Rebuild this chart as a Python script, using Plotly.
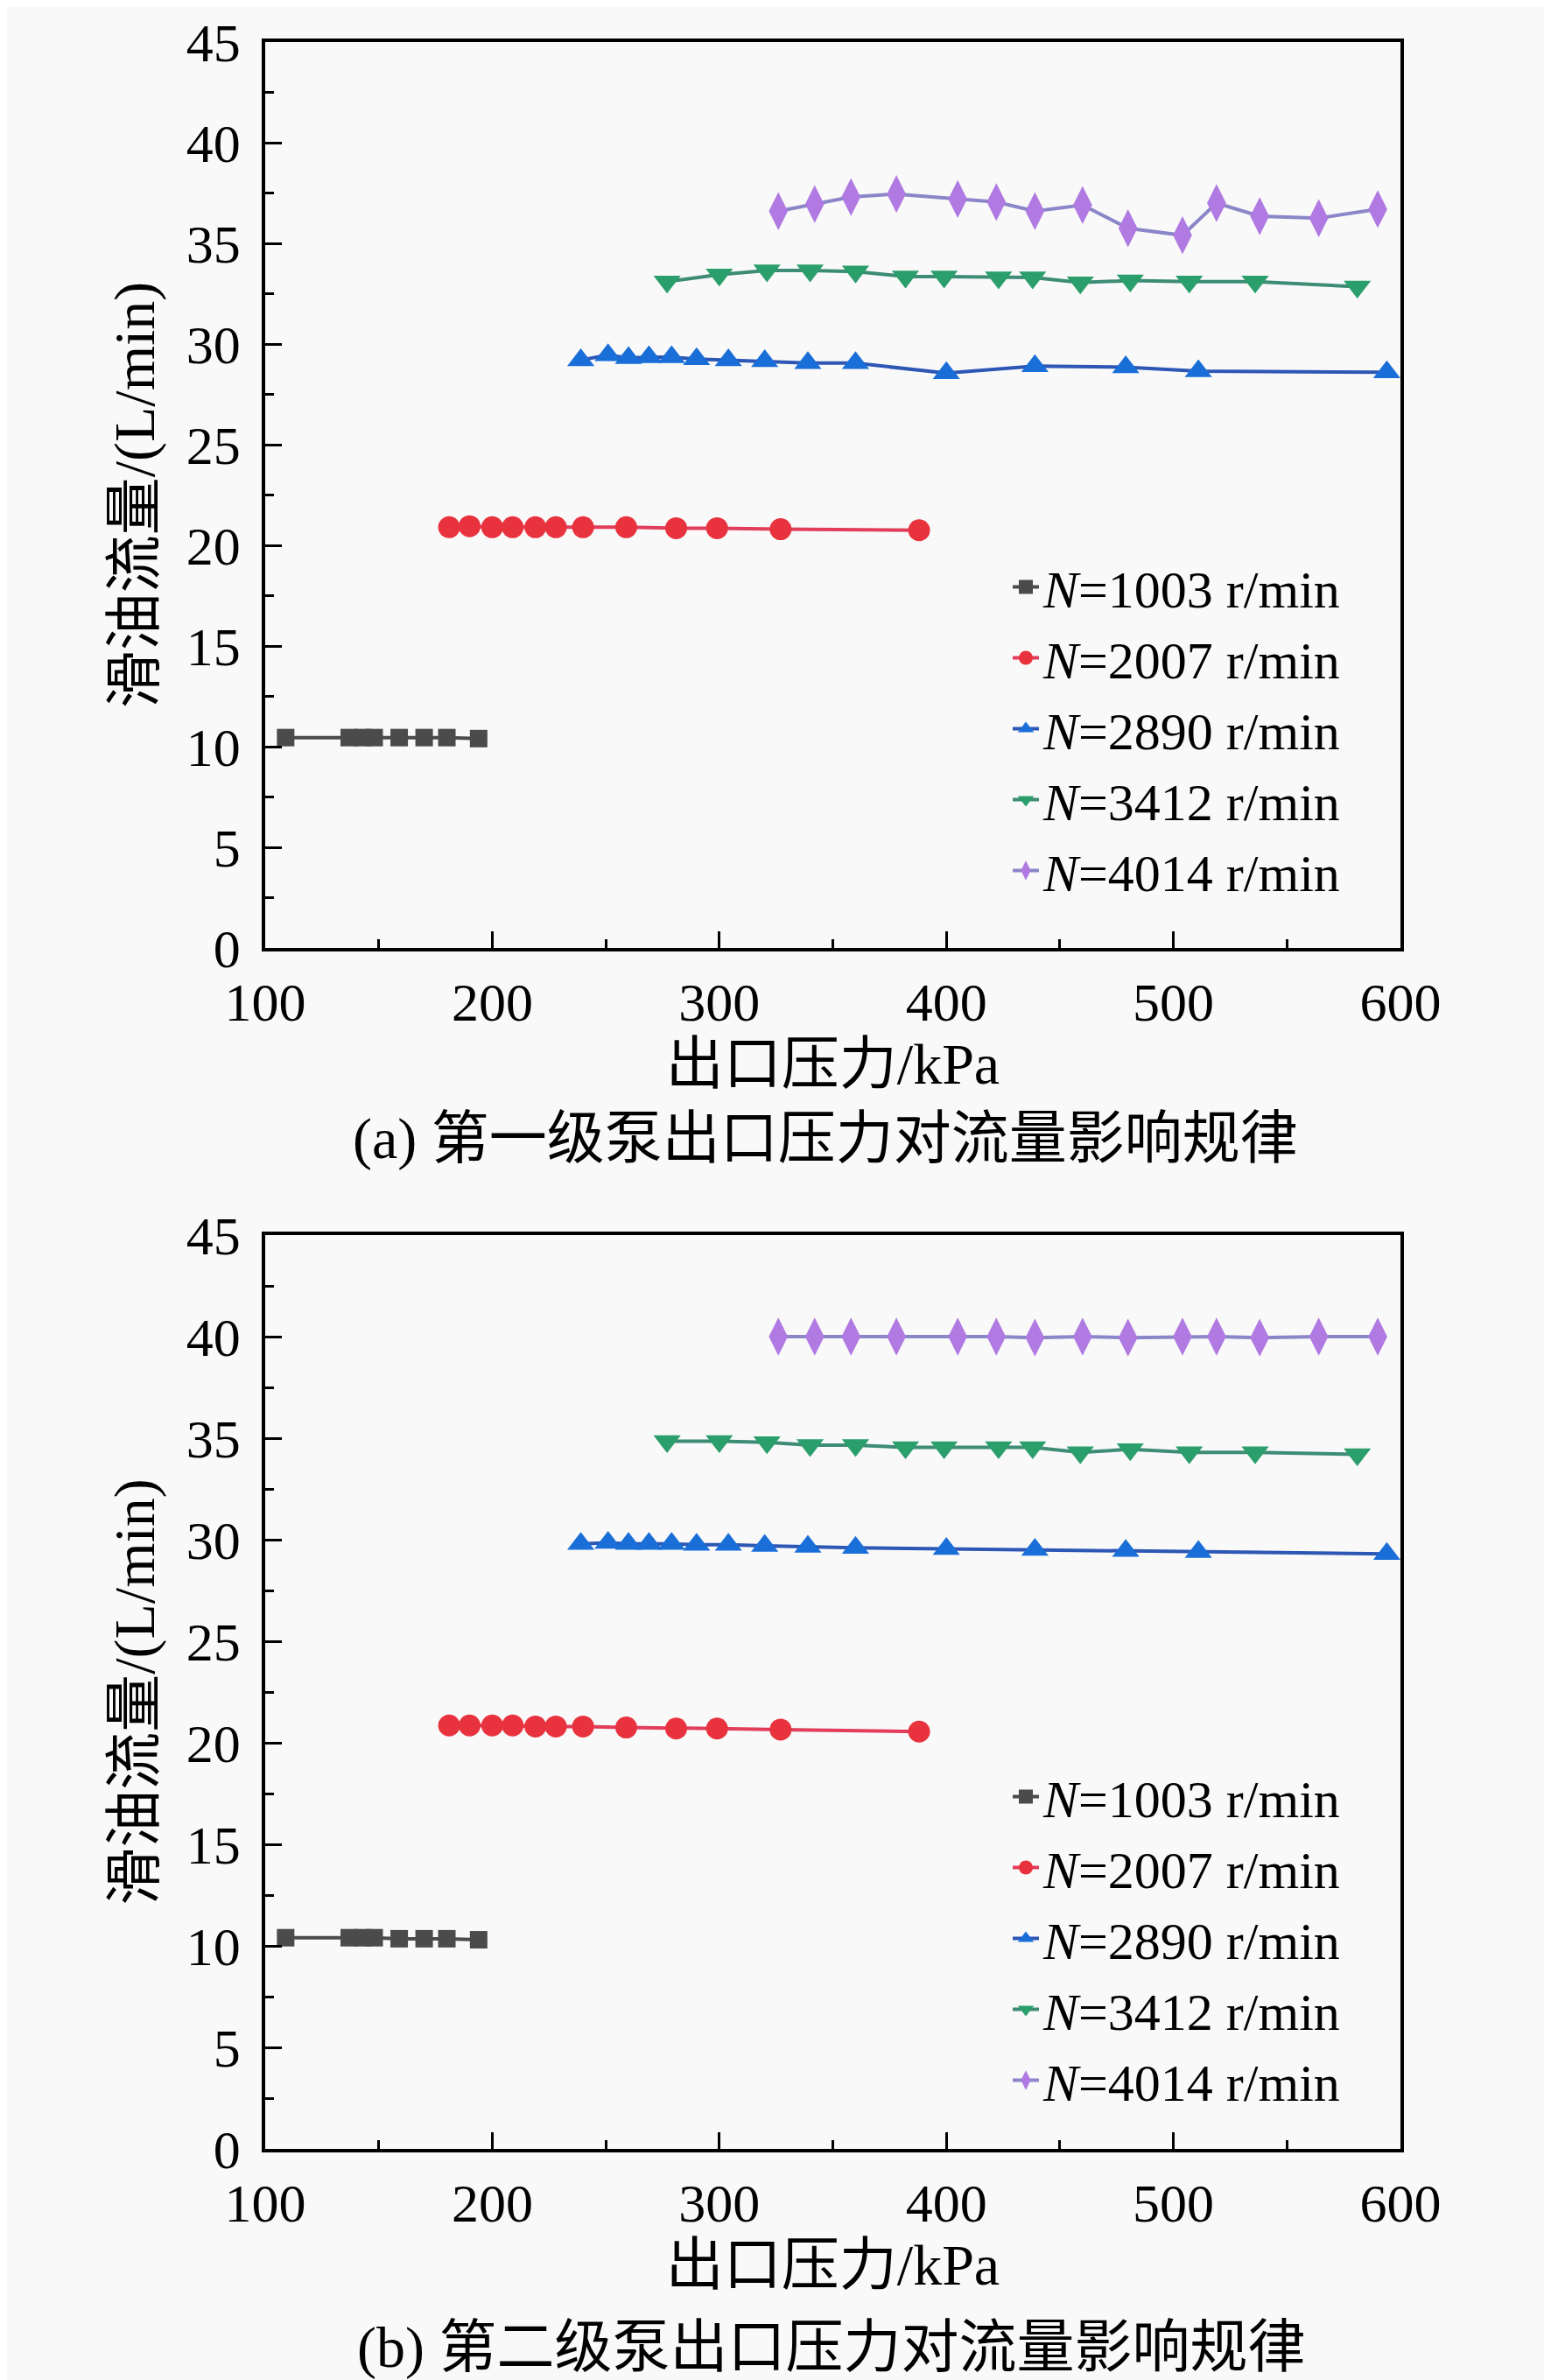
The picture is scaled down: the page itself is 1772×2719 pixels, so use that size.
import plotly.graph_objects as go
from plotly.subplots import make_subplots

# ---------------- data ----------------
speeds = ["1003", "2007", "2890", "3412", "4014"]

x_1003 = [109, 137, 143, 148, 159, 170, 180, 194]
y_1003_a = [10.45, 10.45, 10.45, 10.45, 10.45, 10.45, 10.45, 10.4]
y_1003_b = [10.4, 10.4, 10.4, 10.4, 10.35, 10.35, 10.35, 10.3]

x_2007 = [181, 190, 200, 209, 219, 228, 240, 259, 281, 299, 327, 388]
y_2007_a = [20.9, 20.95, 20.9, 20.9, 20.9, 20.9, 20.9, 20.9, 20.85, 20.85, 20.8, 20.75]
y_2007_b = [20.85, 20.85, 20.85, 20.85, 20.8, 20.8, 20.8, 20.75, 20.7, 20.7, 20.65, 20.55]

x_2890 = [239, 251, 260, 269, 279, 290, 304, 320, 339, 360, 400, 439, 479, 511, 594]
y_2890_a = [29.2, 29.45, 29.3, 29.35, 29.35, 29.25, 29.2, 29.15, 29.05, 29.05, 28.55, 28.9, 28.85, 28.65, 28.6]
y_2890_b = [29.8, 29.85, 29.8, 29.8, 29.8, 29.75, 29.75, 29.7, 29.65, 29.6, 29.55, 29.5, 29.45, 29.4, 29.3]

x_3412 = [277, 300, 321, 340, 360, 382, 399, 423, 438, 459, 481, 507, 536, 581]
y_3412_a = [33.1, 33.45, 33.65, 33.65, 33.6, 33.35, 33.35, 33.3, 33.3, 33.05, 33.15, 33.1, 33.1, 32.85]
y_3412_b = [34.85, 34.85, 34.8, 34.65, 34.65, 34.55, 34.55, 34.55, 34.55, 34.3, 34.45, 34.3, 34.3, 34.2]

x_4014 = [326, 342, 358, 378, 405, 422, 439, 460, 480, 504, 519, 538, 564, 590]
y_4014_a = [36.6, 36.95, 37.3, 37.45, 37.2, 37.05, 36.6, 36.9, 35.75, 35.4, 37.0, 36.35, 36.25, 36.7]
y_4014_b = [40.0, 40.0, 40.0, 40.0, 40.0, 40.0, 39.95, 40.0, 39.95, 40.0, 40.0, 39.95, 40.0, 40.0]

x_ticks = [100, 200, 300, 400, 500, 600]
y_ticks = [0, 5, 10, 15, 20, 25, 30, 35, 40, 45]

x_title = "出口压力/kPa"
y_title = "滑油流量/(L/min)"
caption_a = "(a) 第一级泵出口压力对流量影响规律"
caption_b = "(b) 第二级泵出口压力对流量影响规律"

# ---------------- styles ----------------
FONT = "Liberation Serif, Times New Roman, Noto Sans CJK SC, serif"
styles = {
    "1003": dict(symbol="square", size=20, mcolor="#4b4b4b", lcolor="#4b4b4b"),
    "2007": dict(symbol="circle", size=25, mcolor="#e8323e", lcolor="#e23d5a"),
    "2890": dict(symbol="triangle-up", size=27, mcolor="#1a6ed8", lcolor="#2d57b5"),
    "3412": dict(symbol="triangle-down", size=27, mcolor="#2a9e6b", lcolor="#3d8c76"),
    "4014": dict(symbol="diamond-tall", size=31, mcolor="#b07ae2", lcolor="#8a86c8"),
}

series_a = {
    "1003": (x_1003, y_1003_a), "2007": (x_2007, y_2007_a), "2890": (x_2890, y_2890_a),
    "3412": (x_3412, y_3412_a), "4014": (x_4014, y_4014_a),
}
series_b = {
    "1003": (x_1003, y_1003_b), "2007": (x_2007, y_2007_b), "2890": (x_2890, y_2890_b),
    "3412": (x_3412, y_3412_b), "4014": (x_4014, y_4014_b),
}

fig = make_subplots(rows=2, cols=1)

for row, series, leg in [(1, series_a, "legend"), (2, series_b, "legend2")]:
    for s in speeds:
        xs, ys = series[s]
        st = styles[s]
        fig.add_trace(go.Scatter(
            x=xs, y=ys, mode="lines+markers",
            name="<i>N</i>=" + s + " r/min",
            line=dict(color=st["lcolor"], width=4),
            marker=dict(symbol=st["symbol"], size=st["size"], color=st["mcolor"],
                        line=dict(width=0)),
            legend=leg,
        ), row=row, col=1)

axis_common = dict(
    showline=True, linecolor="black", linewidth=3.5, mirror=True,
    ticks="inside", ticklen=19, tickwidth=3, tickcolor="black",
    showgrid=False, zeroline=False, automargin=False,
    ticklabeloverflow="allow",
    tickfont=dict(family=FONT, size=62, color="black"),
)

W = 1772
H = 2719
xd = [295 / W, 1592 / W]
fig.update_xaxes(range=[100, 600], tickvals=x_ticks, **axis_common,
                 minor=dict(ticks="inside", ticklen=10, tickwidth=3, dtick=50, tickcolor="black"),
                 ticklabelstandoff=5,
                 title=dict(text=x_title, font=dict(family=FONT, size=66, color="black"), standoff=15))
fig.update_yaxes(range=[0, 45], tickvals=y_ticks, **axis_common,
                 minor=dict(ticks="inside", ticklen=10, tickwidth=3, dtick=2.5, tickcolor="black"),
                 ticklabelstandoff=12,
                 title=dict(text=y_title, font=dict(family=FONT, size=66, color="black"), standoff=16))

fig.update_layout(
    width=W, height=H,
    margin=dict(l=0, r=0, t=0, b=0, autoexpand=False),
    paper_bgcolor="#f9f9f9", plot_bgcolor="#f9f9f9",
    font=dict(family=FONT, color="black"),
    xaxis=dict(domain=xd),
    xaxis2=dict(domain=xd),
    yaxis=dict(domain=[1 - 1075 / H, 1 - 40 / H]),
    yaxis2=dict(domain=[1 - 2447 / H, 1 - 1403 / H]),
    legend=dict(x=1144 / W, y=1 - 617 / H, xanchor="left", yanchor="top",
                bgcolor="rgba(0,0,0,0)", font=dict(family=FONT, size=60, color="black"),
                tracegroupgap=0),
    legend2=dict(x=1144 / W, y=1 - 1999 / H, xanchor="left", yanchor="top",
                 bgcolor="rgba(0,0,0,0)", font=dict(family=FONT, size=60, color="black"),
                 tracegroupgap=0),
    showlegend=True,
    annotations=[
        dict(text=caption_a, xref="paper", yref="paper", x=935 / W, y=1 - 1293 / H,
             xanchor="center", yanchor="middle", showarrow=False,
             font=dict(family=FONT, size=66, color="black")),
        dict(text=caption_b, xref="paper", yref="paper", x=941 / W, y=1 - 2674 / H,
             xanchor="center", yanchor="middle", showarrow=False,
             font=dict(family=FONT, size=66, color="black")),
    ],
)

fig.write_html("out.html")
